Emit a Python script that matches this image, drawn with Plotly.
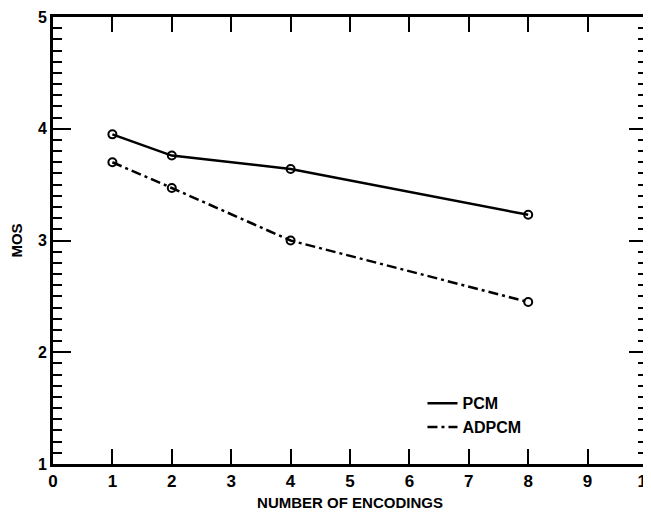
import plotly.graph_objects as go

encodings = [1, 2, 4, 8]
pcm_mos = [3.95, 3.76, 3.64, 3.23]
adpcm_mos = [3.70, 3.47, 3.00, 2.45]
x_ticks = list(range(0, 11))
y_ticks = [1, 2, 3, 4, 5]
y_minor_ticks = [round(1 + 0.1 * i, 1) for i in range(41)]

font = dict(family="Liberation Sans, Arial, sans-serif", color="black")
adpcm_dash = "10px,4px,3px,4px"

fig = go.Figure()
fig.add_trace(go.Scatter(
    x=encodings, y=pcm_mos, name="PCM", mode="lines+markers", showlegend=False,
    line=dict(color="black", width=2.5),
    marker=dict(symbol="circle-open", size=8, color="black", line=dict(width=2)),
))
fig.add_trace(go.Scatter(
    x=encodings, y=adpcm_mos, name="ADPCM", mode="lines+markers", showlegend=False,
    line=dict(color="black", width=2.5, dash=adpcm_dash),
    marker=dict(symbol="circle-open", size=8, color="black", line=dict(width=2)),
))
fig.add_trace(go.Scatter(x=[None], y=[None], name="PCM", mode="lines",
                         line=dict(color="black", width=2.5)))
fig.add_trace(go.Scatter(x=[None], y=[None], name="ADPCM", mode="lines",
                         line=dict(color="black", width=2.5, dash=adpcm_dash)))
# invisible trace so the mirrored axes (top / right ticks) get drawn
fig.add_trace(go.Scatter(x=[0, 10], y=[1, 5], xaxis="x2", yaxis="y2", mode="markers",
                         marker=dict(opacity=0), showlegend=False, hoverinfo="skip"))

common = dict(showgrid=False, zeroline=False, ticks="inside",
              tickwidth=2, automargin=False)

# the page body has an 8px default margin, so the figure is sized/offset for it
fig.update_layout(
    width=643, height=517,
    margin=dict(l=45, r=4, t=9, b=61),
    paper_bgcolor="white", plot_bgcolor="white",
    font=dict(size=14, **font),
    showlegend=True,
    legend=dict(x=0.622, y=0.109, xanchor="left", yanchor="middle",
                bgcolor="rgba(0,0,0,0)", font=dict(size=16, weight="bold", **font),
                itemwidth=30, tracegroupgap=0),
    xaxis=dict(
        range=[0, 10], tickvals=x_ticks, ticklen=15, tickcolor="black",
        showline=True, linecolor="black", linewidth=3, mirror=True, ticklabeloverflow="allow",
        tickfont=dict(size=17, weight="bold", **font),
        title=dict(text="NUMBER OF ENCODINGS", font=dict(size=15, weight="bold", **font), standoff=8),
        **common,
    ),
    xaxis2=dict(
        range=[0, 10], tickvals=x_ticks, ticklen=15, overlaying="x", side="top", anchor="y2",
        tickcolor="black",
        showline=True, linecolor="black", linewidth=3, showticklabels=False,
        **common,
    ),
    yaxis=dict(
        range=[1, 5], tickvals=y_ticks, ticklen=18, tickcolor="black",
        showline=True, linecolor="black", linewidth=3, mirror=True, ticklabeloverflow="allow",
        tickfont=dict(size=16, weight="bold", **font),
        minor=dict(dtick=0.1, ticks="inside", ticklen=9, tickwidth=2, tickcolor="black", showgrid=False),
        title=dict(text="MOS", font=dict(size=15, weight="bold", **font), standoff=12),
        **common,
    ),
    yaxis2=dict(
        range=[1, 5], tickvals=y_ticks, ticklen=18, overlaying="y", side="right", anchor="x2",
        tickcolor="black",
        showline=True, linecolor="black", linewidth=3, showticklabels=False,
        minor=dict(tickmode="array", tickvals=y_minor_ticks, ticks="inside", ticklen=9,
                   tickwidth=2, tickcolor="black", showgrid=False),
        **common,
    ),
)

fig.write_html("out.html")
